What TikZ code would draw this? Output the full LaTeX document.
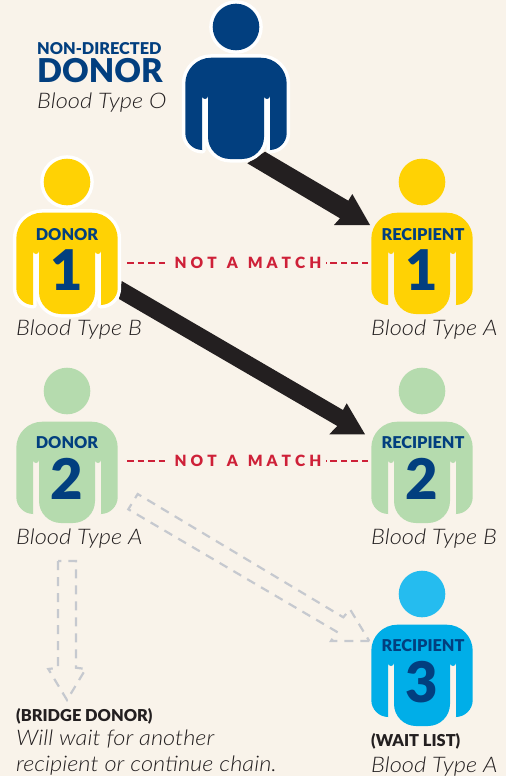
\documentclass[tikz,border=0pt]{standalone}
\usepackage{fontspec}
\setmainfont{Lato}
\newfontfamily\lightit[FakeStretch=1.1]{Lato Light Italic}
\newfontfamily\heavy{Lato Black}
\definecolor{bgc}{HTML}{F9F3EA}
\definecolor{navyc}{HTML}{023F7F}
\definecolor{yellowc}{HTML}{FFD204}
\definecolor{greenc}{HTML}{B5DBAE}
\definecolor{bluec}{HTML}{00AEE8}
\definecolor{headblue}{HTML}{25BCEF}
\definecolor{redc}{HTML}{CE2038}
\definecolor{arrowc}{HTML}{231F20}
\definecolor{grayc}{HTML}{C6C9CF}
\tikzset{
 x=1pt,y=-1pt,
 bigarrow/.style={fill=arrowc,draw=none},
 nomatch/.style={draw=redc,line width=1.8pt,dash pattern=on 6.5pt off 4pt},
 nmtext/.style={text=redc,font=\heavy\fontsize{15.5}{15.5}\selectfont,inner sep=0pt},
 gdash/.style={draw=grayc,line width=2.2pt,dash pattern=on 9pt off 7pt,fill=none},
 bloodtype/.style={text=arrowc,font=\lightit\fontsize{21.5}{23}\selectfont,inner sep=0pt,anchor=base west},
 role/.style={text=navyc,font=\heavy\fontsize{16.3}{16.3}\selectfont,inner sep=0pt},
 numeral/.style={text=navyc,font=\heavy\fontsize{56}{56}\selectfont,inner sep=0pt},
 blacklabel/.style={text=arrowc,font=\heavy\fontsize{16.4}{16.4}\selectfont,inner sep=0pt,anchor=base west},
}
\newcommand{\personpath}[2]{%
 (#1-50.7,#2+56.7) arc[start angle=180,end angle=90,x radius=26,y radius=-26]
 -- (#1+24.7,#2+30.7) arc[start angle=90,end angle=0,x radius=26,y radius=-26]
 -- (#1+50.7,#2+106) arc[start angle=0,end angle=-90,x radius=17,y radius=-17]
 -- (#1+34,#2+123) -- (#1+34,#2+69) arc[start angle=0,end angle=180,radius=3]
 -- (#1+28,#2+110) arc[start angle=0,end angle=-90,x radius=22,y radius=-22]
 -- (#1-6,#2+132) arc[start angle=-90,end angle=-180,x radius=22,y radius=-22]
 -- (#1-28,#2+69) arc[start angle=0,end angle=180,radius=3]
 -- (#1-34,#2+123) -- (#1-33.7,#2+123) arc[start angle=-90,end angle=-180,x radius=17,y radius=-17] -- cycle}
\newcommand{\person}[4][0pt]{%
 \ifdim#1>0pt
 \draw[white,line width=#1,line join=round] (#2,#3) circle[radius=23.3];
 \draw[white,line width=#1,line join=round] \personpath{#2}{#3};
 \fi
 \fill[#4] (#2,#3) circle[radius=23.3];
 \fill[#4] \personpath{#2}{#3};}
\newcommand{\nmstring}{N\kern4pt O\kern4pt T\kern10pt A\kern10pt M\kern4pt A\kern4pt T\kern4pt C\kern4pt H}
\begin{document}
\begin{tikzpicture}
\useasboundingbox (0,0) rectangle (506,776);
\fill[bgc] (0,0) rectangle (506,776);
% big arrows
\fill[bigarrow] (265,151.7) -- (348.3,200.7) -- (352.3,194) -- (370,225) -- (334,225) -- (340,218.3) -- (247.3,163.3) -- cycle;
\fill[bigarrow] (121.7,281) -- (343,410) -- (346.7,403.3) -- (365,434.3) -- (329.3,434.3) -- (337.3,426) -- (119,299) -- cycle;
\person[7pt]{236}{27}{navyc}
\person[7pt]{67}{182}{yellowc}
\person{422}{182}{yellowc}
\person{67}{391}{greenc}
\person{422}{391}{greenc}
\fill[headblue] (422,594) circle[radius=23.3];
\fill[bluec] \personpath{422}{594};
% role labels
\node[role] (d1r) at (67,234.5) {DONOR};
\node[numeral] (d1n) at (67,270) {1};
\node[role] (r1r) at (423,234.5) {RECIPIENT};
\node[numeral] (r1n) at (422,270) {1};
\node[role] (d2r) at (67,442.5) {DONOR};
\node[numeral] (d2n) at (67,479) {2};
\node[role] (r2r) at (423,442.5) {RECIPIENT};
\node[numeral] (r2n) at (422,479) {2};
\node[role] (r3r) at (423,645.5) {RECIPIENT};
\node[numeral] (r3n) at (422,682) {3};
% not a match
\node[nmtext] (nm1) at (248,263) {\nmstring};
\node[nmtext] (nm2) at (248,461) {\nmstring};
\coordinate (d1e) at (127,263); \coordinate (r1e) at (368,263);
\coordinate (d2e) at (127,461); \coordinate (r2e) at (368,461);
\draw[nomatch,shorten >=6pt] (d1e) -- (nm1.west);
\draw[nomatch,shorten >=4pt] (r1e) -- (nm1.east);
\draw[nomatch,shorten >=6pt] (d2e) -- (nm2.west);
\draw[nomatch,shorten >=4pt] (r2e) -- (nm2.east);
% dashed arrows
\draw[gdash] (369.3,641) -- (331,641) -- (336.7,631.7) -- (128.3,509.3) -- (137.7,494) -- (343.3,617.3) -- (350,609.3) -- cycle;
\draw[gdash] (58,561) -- (58,667.7) -- (48.3,669) -- (67,700) -- (85.7,669) -- (76,667.7) -- (76,561) -- cycle;
% texts
\node[text=navyc,font=\heavy\fontsize{16.3}{16.3}\selectfont,inner sep=0pt,anchor=base west] (nd1) at (37,54.5) {NON-DIRECTED};
\node[text=navyc,font=\heavy\fontsize{32.8}{32.8}\selectfont,inner sep=0pt,anchor=base west] (nd2) at (37,82.5) {DONOR};
\node[bloodtype] (ndb) at (37,108) {Blood Type O};
\node[bloodtype] (b1) at (16,335) {Blood Type B};
\node[bloodtype] (b2) at (371,335) {Blood Type A};
\node[bloodtype] (b3) at (16,544) {Blood Type A};
\node[bloodtype] (b4) at (371,544) {Blood Type B};
\node[blacklabel] (bridge) at (16,721) {(BRIDGE DONOR)};
\node[bloodtype] (w1) at (16,745) {Will wait for another};
\node[bloodtype] (w2) at (16,771) {recipient or continue chain.};
\node[blacklabel] (wl) at (371,746) {(WAIT LIST)};
\node[bloodtype] (b5) at (371,772) {Blood Type A};
\end{tikzpicture}
\end{document}
